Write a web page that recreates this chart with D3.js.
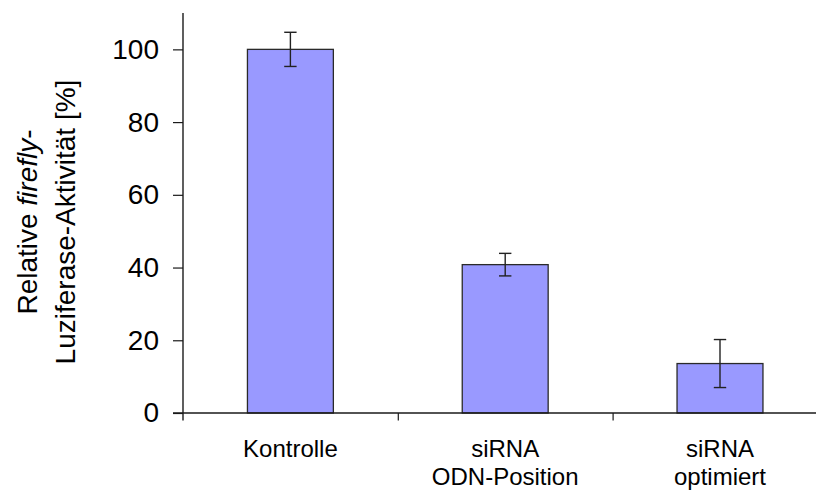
<!DOCTYPE html>
<html>
<head>
<meta charset="utf-8">
<script src="https://cdn.jsdelivr.net/npm/d3@7/dist/d3.min.js"></script>
<style>
  html, body { margin: 0; padding: 0; background: #fff; }
  svg { display: block; font-family: "Liberation Sans", Arial, sans-serif; }
</style>
</head>
<body>
<svg id="chart" width="816" height="492"></svg>
<script>
// Relative firefly luciferase activity per construct
const categories = [["Kontrolle"], ["siRNA", "ODN-Position"], ["siRNA", "optimiert"]];
const values = [100, 40.8, 13.6];
const errors = [4.7, 3.1, 6.6];
const yTicks = [0, 20, 40, 60, 80, 100];

const svg = d3.select("#chart");
const x0 = 183, y0 = 413, yTop = 13, band = 214.8;

const y = d3.scaleLinear().domain([0, 110]).range([y0, yTop]);
const xb = d3.scaleBand().domain(d3.range(categories.length))
  .range([x0, x0 + band * categories.length]).paddingInner(0.6).paddingOuter(0.3);
const xEdge = d3.scaleLinear().domain([0, categories.length]).range([x0, x0 + band * categories.length]);

const ink = "#1a1a1a";

// bars
svg.append("g").selectAll("rect").data(values).join("rect")
  .attr("x", (d, i) => xb(i))
  .attr("width", xb.bandwidth())
  .attr("y", d => y(d))
  .attr("height", d => y(0) - y(d))
  .attr("fill", "#9999ff")
  .attr("stroke", "#2a2a2a")
  .attr("stroke-width", 1.3);

// error bars
const eg = svg.append("g").attr("stroke", "#222").attr("stroke-width", 1.4);
values.forEach((v, i) => {
  const cx = xb(i) + xb.bandwidth() / 2;
  const hi = y(v + errors[i]), lo = y(v - errors[i]);
  eg.append("line").attr("x1", cx).attr("x2", cx).attr("y1", hi).attr("y2", lo);
  eg.append("line").attr("x1", cx - 6.2).attr("x2", cx + 6.2).attr("y1", hi).attr("y2", hi);
  eg.append("line").attr("x1", cx - 6.2).attr("x2", cx + 6.2).attr("y1", lo).attr("y2", lo);
});

// y axis
const yAxis = svg.append("g").attr("transform", `translate(${x0},0)`)
  .call(d3.axisLeft(y).tickValues(yTicks).tickSize(10).tickPadding(14).tickSizeOuter(0));
yAxis.select(".domain").remove();
yAxis.selectAll(".tick line").attr("stroke", ink).attr("stroke-width", 1.2);
yAxis.selectAll(".tick text").attr("font-size", 28).attr("fill", "#000")
  .attr("font-family", "'Liberation Sans', Arial, sans-serif");
svg.append("line").attr("x1", x0).attr("x2", x0).attr("y1", yTop).attr("y2", y0 + 7.5)
  .attr("stroke", ink).attr("stroke-width", 1.4);

// x axis with ticks between categories
const xAxis = svg.append("g").attr("transform", `translate(0,${y0})`)
  .call(d3.axisBottom(xEdge).tickValues([1, 2]).tickSize(7.5).tickFormat("").tickSizeOuter(0));
xAxis.select(".domain").remove();
xAxis.selectAll(".tick line").attr("stroke", ink).attr("stroke-width", 1.2);
svg.append("line").attr("x1", x0 - 10).attr("x2", 816).attr("y1", y0).attr("y2", y0)
  .attr("stroke", ink).attr("stroke-width", 1.4);

// category labels
const lab = svg.append("g").attr("font-size", 24).attr("fill", "#000").attr("text-anchor", "middle");
categories.forEach((lines, i) => {
  const t = lab.append("text").attr("x", xb(i) + xb.bandwidth() / 2).attr("y", 457);
  lines.forEach((s, k) => t.append("tspan").attr("x", xb(i) + xb.bandwidth() / 2).attr("y", 457 + k * 27.8).text(s));
});

// y title
const title = svg.append("text").attr("transform", "translate(0,222) rotate(-90)")
  .attr("font-size", 28).attr("fill", "#000").attr("text-anchor", "middle");
const l1 = title.append("tspan").attr("x", 0).attr("y", 36.5);
l1.append("tspan").text("Relative ");
l1.append("tspan").attr("font-style", "italic").text("firefly");
l1.append("tspan").text("-");
title.append("tspan").attr("x", 0).attr("y", 74.5).text("Luziferase-Aktivität [%]");
</script>
</body>
</html>
